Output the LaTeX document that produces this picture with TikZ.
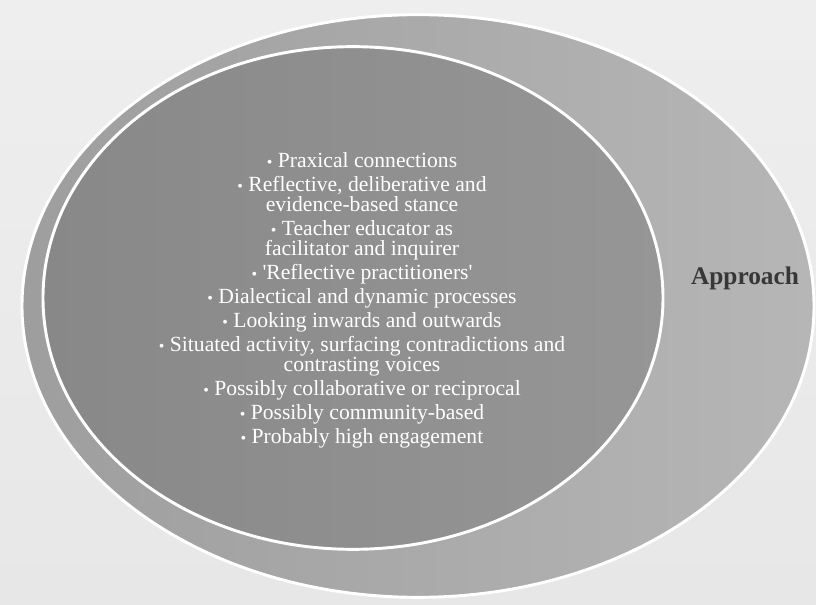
\documentclass[tikz,border=0pt]{standalone}
\usepackage{fontspec}
\setmainfont{Liberation Serif}
\usepackage{tikz}
\usetikzlibrary{positioning,shapes.geometric}
\definecolor{bggray}{RGB}{231,231,231}
\definecolor{ringdark}{RGB}{158,158,158}
\definecolor{ringlight}{RGB}{182,182,182}
\definecolor{coredark}{RGB}{136,136,136}
\definecolor{corelight}{RGB}{150,150,150}
\definecolor{labelgray}{RGB}{55,55,55}
\newcommand{\bt}{{\fontsize{12}{12}\selectfont\textbullet}~}

\begin{document}
\begin{tikzpicture}[x=0.75pt, y=-0.75pt,
        oval/.style={ellipse, draw=white, line width=2.2pt, inner sep=0pt},
        items/.style={text=white, align=center, font=\fontsize{16.2}{15}\selectfont}
      ]
        % background
        \fill[top color=bggray!70!white, bottom color=bggray] (0,0) rectangle (816,605);
        \useasboundingbox (0,0) rectangle (816,605);
        \node[oval, left color=ringdark, right color=ringlight,
              minimum width=594pt, minimum height=437pt] (outer) at (418,306) {};
        \node[oval, left color=coredark, right color=corelight,
              minimum width=465pt, minimum height=377pt] (inner) at (353,298) {};
        \node[items] (list) at (362,300)
              {\bt Praxical connections\\[3pt]
               \bt Reflective, deliberative and\\
               evidence-based stance\\[3pt]
               \bt Teacher educator as\\
               facilitator and inquirer\\[3pt]
               \bt \textquotesingle Reflective practitioners\textquotesingle\\[3pt]
               \bt Dialectical and dynamic processes\\[3pt]
               \bt Looking inwards and outwards\\[3pt]
               \bt Situated activity, surfacing contradictions and\\
               contrasting voices\\[3pt]
               \bt Possibly collaborative or reciprocal\\[3pt]
               \bt Possibly community-based\\[3pt]
               \bt Probably high engagement};
        \node[font=\fontsize{19}{22}\selectfont\bfseries, text=labelgray] (approach)
              at (745,278) {Approach};
      \end{tikzpicture}
\end{document}
